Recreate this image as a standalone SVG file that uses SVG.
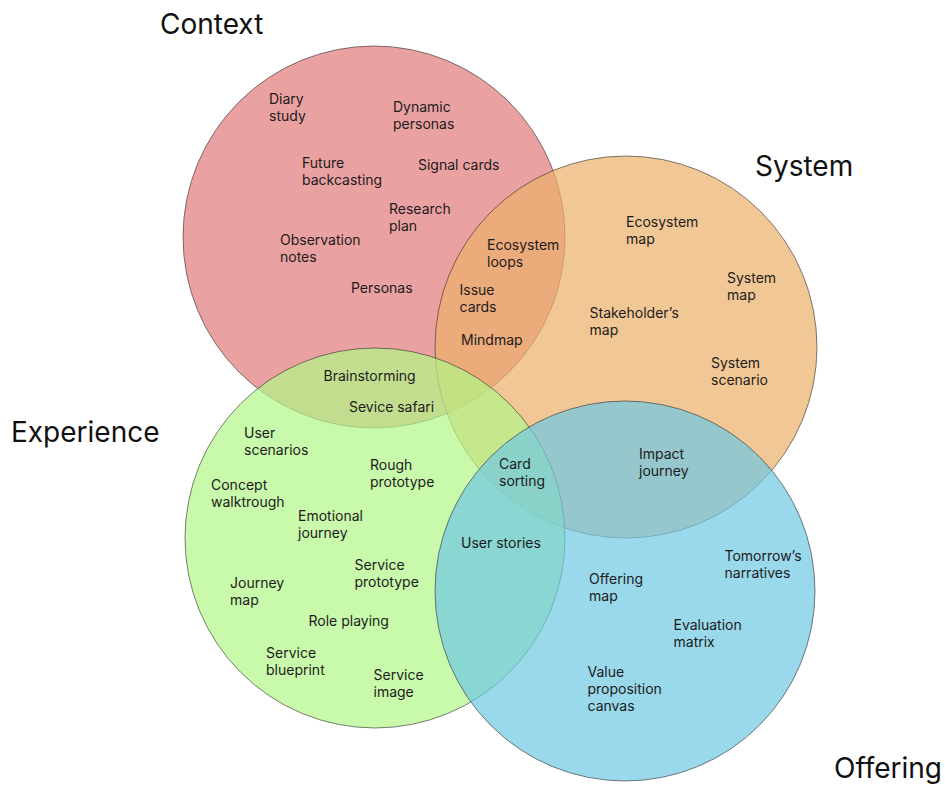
<svg xmlns="http://www.w3.org/2000/svg" width="945" height="787" viewBox="0 0 945 787">
<style>
.c{stroke:#2b2b2b;stroke-width:0.8;fill-opacity:0.7;stroke-opacity:0.75}
.t{font-family:Inter,"Noto Sans","Liberation Sans",sans-serif;font-size:14px;fill:#1c1c1c}
.h{font-family:Inter,"Noto Sans","Liberation Sans",sans-serif;font-size:28px;fill:#111}
</style>
<rect width="945" height="787" fill="#ffffff"/>
<g id="circles">
<circle id="context" class="c" cx="374" cy="237" r="191" fill="#e1797a"/>
<circle id="system" class="c" cx="626" cy="347" r="191" fill="#ecaf6a"/>
<circle id="experience" class="c" cx="375" cy="538" r="190" fill="#b2f687"/>
<circle id="offering" class="c" cx="625" cy="591" r="190" fill="#6fc7e2"/>
</g>
<g id="titles">
<text class="h" x="160" y="34">Context</text>
<text class="h" x="755" y="176">System</text>
<text class="h" x="11" y="442">Experience</text>
<text class="h" x="834" y="778">Offering</text>
</g>
<g id="labels" class="t">
<text x="269" y="103.5">Diary<tspan x="269" dy="17">study</tspan></text>
<text x="393" y="111.5">Dynamic<tspan x="393" dy="17">personas</tspan></text>
<text x="302" y="167.5">Future<tspan x="302" dy="17">backcasting</tspan></text>
<text x="418" y="170">Signal cards</text>
<text x="389" y="213.5">Research<tspan x="389" dy="17">plan</tspan></text>
<text x="280" y="244.5">Observation<tspan x="280" dy="17">notes</tspan></text>
<text x="351" y="292.5">Personas</text>
<text x="487" y="249.5">Ecosystem<tspan x="487" dy="17">loops</tspan></text>
<text x="459.5" y="295">Issue<tspan x="459.5" dy="17">cards</tspan></text>
<text x="461" y="344.5">Mindmap</text>
<text x="626" y="227">Ecosystem<tspan x="626" dy="17">map</tspan></text>
<text x="727" y="282.5">System<tspan x="727" dy="17">map</tspan></text>
<text x="589.5" y="317.5">Stakeholder’s<tspan x="589.5" dy="17">map</tspan></text>
<text x="711" y="367.5">System<tspan x="711" dy="17">scenario</tspan></text>
<text x="323.5" y="381">Brainstorming</text>
<text x="349" y="412">Sevice safari</text>
<text x="244" y="438">User<tspan x="244" dy="17">scenarios</tspan></text>
<text x="370" y="469.5">Rough<tspan x="370" dy="17">prototype</tspan></text>
<text x="211" y="490">Concept<tspan x="211" dy="17">walktrough</tspan></text>
<text x="298" y="521">Emotional<tspan x="298" dy="17">journey</tspan></text>
<text x="499" y="468.5">Card<tspan x="499" dy="17">sorting</tspan></text>
<text x="461" y="547.5">User stories</text>
<text x="354.5" y="570">Service<tspan x="354.5" dy="17">prototype</tspan></text>
<text x="230" y="587.5">Journey<tspan x="230" dy="17">map</tspan></text>
<text x="308.5" y="626">Role playing</text>
<text x="266" y="657.5">Service<tspan x="266" dy="17">blueprint</tspan></text>
<text x="373.5" y="679.5">Service<tspan x="373.5" dy="17">image</tspan></text>
<text x="639" y="458.5">Impact<tspan x="639" dy="17">journey</tspan></text>
<text x="724.5" y="561">Tomorrow’s<tspan x="724.5" dy="17">narratives</tspan></text>
<text x="589" y="584">Offering<tspan x="589" dy="17">map</tspan></text>
<text x="673.5" y="629.5">Evaluation<tspan x="673.5" dy="17">matrix</tspan></text>
<text x="587.5" y="677">Value<tspan x="587.5" dy="17">proposition</tspan><tspan x="587.5" dy="17">canvas</tspan></text>
</g>
</svg>
